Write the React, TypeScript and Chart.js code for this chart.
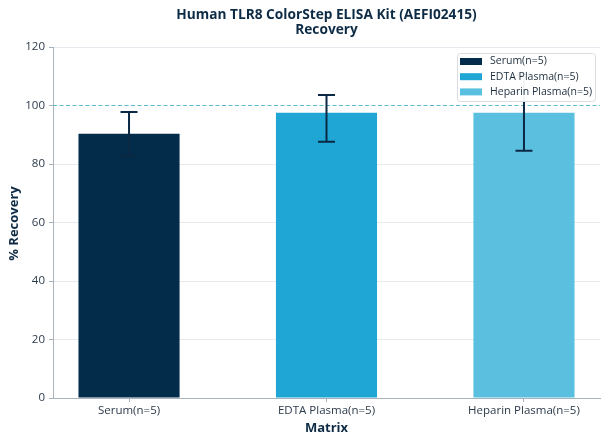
import React, { useEffect, useRef } from 'react';
import { Chart, registerables } from 'chart.js';

Chart.register(...registerables);

const categories = ['Serum(n=5)', 'EDTA Plasma(n=5)', 'Heparin Plasma(n=5)'];
const recovery = [90.3, 97.5, 97.5];
const errUpper = [97.8, 103.6, 110.5];
const errLower = [82.8, 87.6, 84.5];
const barColors = ['#032b4a', '#1fa6d4', '#5bc0e0'];
const titleLines = ['Human TLR8 ColorStep ELISA Kit (AEFI02415)', 'Recovery'];
const xTitle = 'Matrix';
const yTitle = '% Recovery';
const referenceValue = 100;
const yMin = 0;
const yMax = 120;
const yStep = 20;

const FONT = "'Open Sans', 'Noto Sans', sans-serif";
const NAVY = '#0d2b45';
const TICK_TEXT = '#2b3a4a';
const AXIS = '#a9b3bc';
const GRID = '#e6eaee';

const decorPlugin = {
  id: 'decor',
  beforeDatasetsDraw(chart: any) {
    const { ctx, chartArea, scales } = chart;
    const y = Math.round(scales.y.getPixelForValue(referenceValue)) + 0.5;
    ctx.save();
    ctx.strokeStyle = '#5db9cc';
    ctx.lineWidth = 1;
    ctx.setLineDash([4, 2.5]);
    ctx.beginPath();
    ctx.moveTo(chartArea.left, y);
    ctx.lineTo(chartArea.right, y);
    ctx.stroke();
    ctx.restore();
  },
  afterDatasetsDraw(chart: any) {
    const { ctx, scales } = chart;
    ctx.save();
    ctx.strokeStyle = '#0b2944';
    ctx.lineWidth = 2;
    ctx.lineCap = 'butt';
    const cap = 8.5;
    recovery.forEach((_, i) => {
      const x = scales.x.getPixelForValue(i);
      const yt = scales.y.getPixelForValue(errUpper[i]);
      const yb = scales.y.getPixelForValue(errLower[i]);
      ctx.beginPath();
      ctx.moveTo(x, yt);
      ctx.lineTo(x, yb);
      ctx.moveTo(x - cap, yt);
      ctx.lineTo(x + cap, yt);
      ctx.moveTo(x - cap, yb);
      ctx.lineTo(x + cap, yb);
      ctx.stroke();
    });
    ctx.restore();
  },
  afterDraw(chart: any) {
    const { ctx, chartArea } = chart;
    const cx = (chartArea.left + chartArea.right) / 2;
    ctx.save();
    ctx.fillStyle = NAVY;
    ctx.textAlign = 'center';
    ctx.textBaseline = 'middle';
    ctx.font = `bold 13.7px ${FONT}`;
    ctx.fillText(titleLines[0], cx, 15);
    ctx.fillText(titleLines[1], cx, 30);
    ctx.font = `bold 13px ${FONT}`;
    ctx.fillText(xTitle, cx, 428);
    ctx.save();
    ctx.translate(14, (chartArea.top + chartArea.bottom) / 2 + 1);
    ctx.rotate(-Math.PI / 2);
    ctx.fillText(yTitle, 0, 0);
    ctx.restore();

    // legend
    const lx = 457, ly = 53, lw = 138, lh = 48;
    ctx.fillStyle = 'rgba(255,255,255,0.95)';
    ctx.strokeStyle = '#d9dde1';
    ctx.lineWidth = 1;
    ctx.beginPath();
    (ctx as any).roundRect(lx + 0.5, ly + 0.5, lw, lh, 3);
    ctx.fill();
    ctx.stroke();
    ctx.font = `10.5px ${FONT}`;
    ctx.textAlign = 'left';
    categories.forEach((c, i) => {
      const ry = 61.5 + i * 15.2;
      ctx.fillStyle = barColors[i];
      ctx.fillRect(460, ry - 3.5, 22, 7);
      ctx.fillStyle = '#1e2e3e';
      ctx.fillText(c, 490, ry);
    });
    ctx.restore();
  },
};

export default function App() {
  const canvasRef = useRef<HTMLCanvasElement | null>(null);

  useEffect(() => {
    document.body.style.margin = '0';
    const canvas = canvasRef.current;
    if (!canvas) return;
    const chart = new Chart(canvas, {
      type: 'bar',
      data: {
        datasets: [
          {
            label: 'Recovery',
            data: recovery.map((v, i) => ({ x: i, y: v })),
            backgroundColor: barColors,
            borderWidth: 0,
            barPercentage: 0.512,
            categoryPercentage: 1,
          },
        ],
      },
      options: {
        animation: false,
        responsive: false,
        maintainAspectRatio: false,
        devicePixelRatio: 1,
        layout: { padding: { top: 47, right: 8, left: 0, bottom: 0 } },
        plugins: {
          legend: { display: false },
          title: { display: false },
          tooltip: { enabled: false },
        },
        scales: {
          x: {
            type: 'linear',
            offset: false,
            min: -0.385,
            max: 2.385,
            afterBuildTicks: (s: any) => {
              s.ticks = categories.map((_, i) => ({ value: i }));
            },
            afterFit: (s: any) => {
              s.height = 46;
            },
            ticks: {
              autoSkip: false,
              maxRotation: 0,
              padding: 2,
              color: TICK_TEXT,
              font: { family: FONT, size: 11.5 },
              callback: (v: any) => categories[v as number] ?? '',
            },
            grid: {
              offset: false,
              drawOnChartArea: false,
              drawTicks: true,
              tickLength: 4,
              tickColor: AXIS,
              color: AXIS,
            },
            border: { color: AXIS, width: 1 },
          },
          y: {
            min: yMin,
            max: yMax,
            afterFit: (s: any) => {
              s.width = 53;
            },
            ticks: {
              stepSize: yStep,
              padding: 4,
              color: TICK_TEXT,
              font: { family: FONT, size: 11.5 },
            },
            grid: {
              color: (c: any) => (c.tick && c.tick.value === referenceValue ? 'rgba(0,0,0,0)' : GRID),
              tickLength: 4,
              tickColor: AXIS,
              lineWidth: 1,
            },
            border: { color: AXIS, width: 1 },
          },
        },
      },
      plugins: [decorPlugin],
    });
    return () => chart.destroy();
  }, []);

  return (
    <div style={{ position: 'fixed', left: 0, top: 0, width: 608, height: 444, background: '#fff' }}>
      <canvas ref={canvasRef} width={608} height={444} style={{ width: 608, height: 444, display: 'block' }} />
    </div>
  );
}
